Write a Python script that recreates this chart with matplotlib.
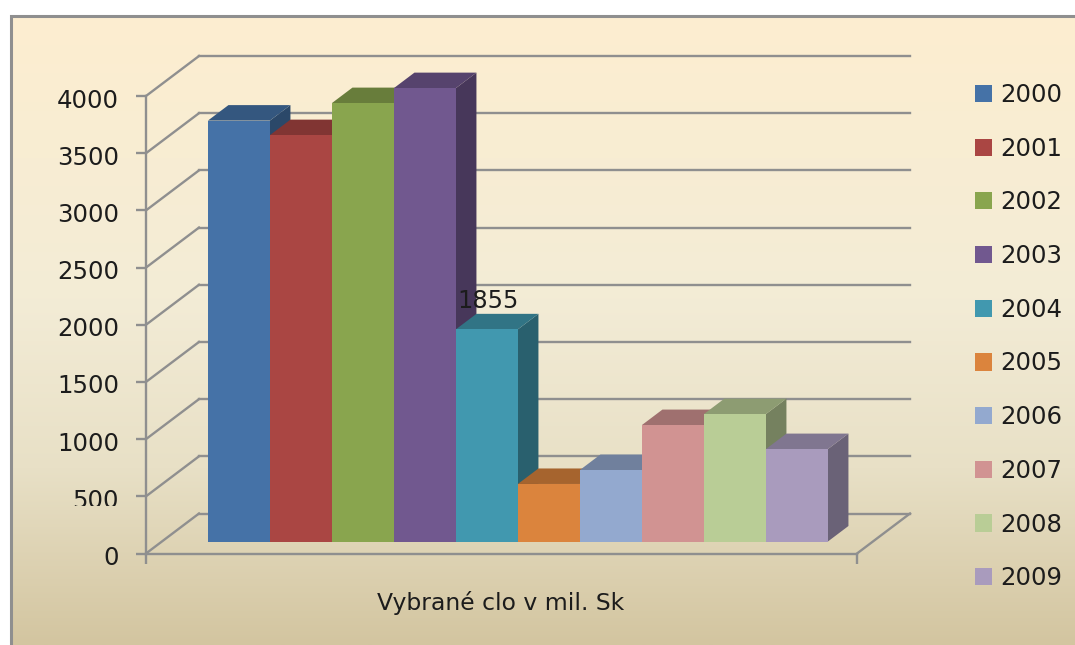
#!/usr/bin/python3

import matplotlib
matplotlib.use('Agg')
import matplotlib.pyplot as plt
import numpy as np
from matplotlib.colors import LinearSegmentedColormap, to_rgb
from matplotlib.patches import Polygon
from matplotlib.transforms import Affine2D, Bbox

years = ['2000', '2001', '2002', '2003', '2004', '2005', '2006', '2007', '2008', '2009']
values = [3680, 3553, 3833, 3964, 1855, 503, 625, 1018, 1114, 808]
colors = ['#4572A7', '#AA4643', '#89A54E', '#71588F', '#4198AF',
          '#DB843D', '#93A9CF', '#D19392', '#B9CD96', '#A99BBD']
y_ticks = [0, 500, 1000, 1500, 2000, 2500, 3000, 3500, 4000]
x_title = 'Vybrané clo v mil. Sk'

GRAY = '#8f8f8f'
TEXT = '#1c1c1c'

# oblique depth: how far the back wall is shifted, in data units
WALL_DX = 53 / 62
WALL_DY = 40 / (57.2 / 500)
BAR_FRONT = 0.3
BAR_BACK = 0.6875
X_MIN, X_MAX = -77 / 62, 634 / 62


def project(x, y, z):
    return x + z * WALL_DX, y + z * WALL_DY


def shade(color, factor):
    return tuple(c * factor for c in to_rgb(color))


fig = plt.figure(figsize=(10.75, 6.45), dpi=100)
fig.patch.set_facecolor('white')

# background gradient and the frame
bg = fig.add_axes([0, 0, 1, 1], zorder=0)
bg.set_xlim(0, 1075)
bg.set_ylim(645, 0)
bg.axis('off')
cmap = LinearSegmentedColormap.from_list(
    'panel', [(0, '#FDEED0'), (0.45, '#F3ECD6'), (0.72, '#E8E0C6'), (1, '#D3C5A0')])
bg.imshow(np.linspace(0, 1, 256).reshape(-1, 1), cmap=cmap, aspect='auto',
          extent=(11, 1075, 645, 16), zorder=0)
bg.set_xlim(0, 1075)
bg.set_ylim(645, 0)
bg.plot([11, 11, 1075], [645, 15.5, 15.5], color=GRAY, lw=2.2, zorder=1,
        solid_joinstyle='miter', clip_on=False)

ax = fig.add_axes([146 / 1075, (645 - 553.5) / 645, 711 / 1075, 457.5 / 645], zorder=1)
ax.patch.set_alpha(0)
ax.set_xlim(X_MIN, X_MAX)
ax.set_ylim(0, 4000)

for side in ['top', 'right']:
    ax.spines[side].set_visible(False)
for side in ['left', 'bottom']:
    ax.spines[side].set_color(GRAY)
    ax.spines[side].set_linewidth(1.7)

ax.set_yticks(y_ticks)
ax.set_xticks([X_MIN, X_MAX])
ax.set_xticklabels([])
ax.tick_params(axis='both', length=7.2, width=1.7, color=GRAY)
ax.tick_params(axis='y', labelsize=17.6, labelcolor=TEXT, pad=12.3)

# wall gridlines and the diagonals to the axis
for t in y_ticks:
    x0, y0 = project(X_MIN, t, 1)
    x1, y1 = project(X_MAX, t, 1)
    ax.plot([x0, x1], [y0, y1], color=GRAY, lw=1.7, clip_on=False, zorder=1)
    ax.plot([X_MIN, x0], [t, y0], color=GRAY, lw=1.7, clip_on=False, zorder=1)
x1, y1 = project(X_MAX, 0, 1)
ax.plot([X_MAX, x1], [0, y1], color=GRAY, lw=1.7, clip_on=False, zorder=1)

# bars, left to right so each one covers the side of the previous
for i, (year, value, color) in enumerate(zip(years, values, colors)):
    left, right = i - 0.5, i + 0.5
    z = 2 + i
    side_pts = [project(right, 0, BAR_FRONT), project(right, 0, BAR_BACK),
                project(right, value, BAR_BACK), project(right, value, BAR_FRONT)]
    top_pts = [project(left, value, BAR_FRONT), project(right, value, BAR_FRONT),
               project(right, value, BAR_BACK), project(left, value, BAR_BACK)]
    ax.add_patch(Polygon(side_pts, facecolor=shade(color, 0.63), edgecolor='none',
                         clip_on=False, zorder=z))
    ax.add_patch(Polygon(top_pts, facecolor=shade(color, 0.76), edgecolor='none',
                         clip_on=False, zorder=z))
    fx, fy = project(i, 0, BAR_FRONT)
    ax.bar(fx, value, width=1, bottom=fy, color=color, label=year, clip_on=False, zorder=z)

# data label for 2004
lx, ly = project(years.index('2004'), values[years.index('2004')], BAR_FRONT)
ax.text(lx + 0.01, ly + 145, '1855', fontsize=17.4, color=TEXT, ha='center', va='bottom', zorder=20)

ax.set_xlabel(x_title, fontsize=16.9, color=TEXT, labelpad=22)
ax.xaxis.set_label_coords((501 - 146) / 711, -(603 - 553.5) / 457.5, transform=ax.transAxes)
ax.xaxis.label.set_va('center')

leg = ax.legend(loc='upper left', bbox_to_anchor=(975 / 1075, (645 - 83) / 645),
                bbox_transform=fig.transFigure, frameon=False, fontsize=17.6, ncol=1,
                handlelength=0.7, handleheight=0.7, handletextpad=0.32,
                labelspacing=1.215, borderaxespad=0, borderpad=0, labelcolor=TEXT)

# tick labels sit a little under their ticks, and the 500 one is cut off in the source
for label, t in zip(ax.get_yticklabels(), y_ticks):
    label.set_transform(label.get_transform() + Affine2D().translate(0, -2))
    if t == 500:
        label.set_clip_on(True)
        label.set_clip_box(Bbox([[0, 645 - 506], [140, 645 - 470]]))

fig.savefig('out.png', dpi=100, facecolor='white')
